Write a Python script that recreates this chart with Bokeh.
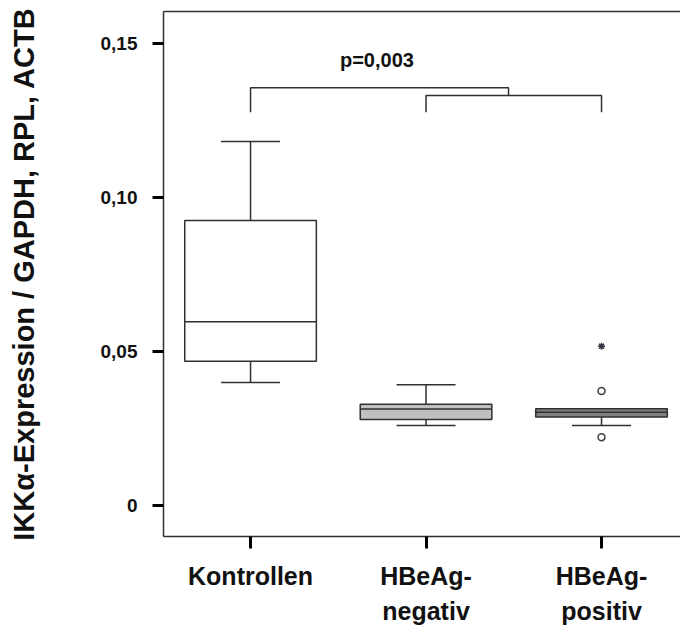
import numpy as np
from bokeh.plotting import figure
from bokeh.models import (Range1d, FixedTicker, CustomJSTickFormatter, LinearAxis,
                          Label, ColumnDataSource)
from bokeh.embed import file_html
from bokeh.resources import INLINE

# Groups and box-plot statistics (IKKα expression normalised to GAPDH, RPL, ACTB)
groups = ["Kontrollen", "HBeAg-\nnegativ", "HBeAg-\npositiv"]
positions = [1, 2, 3]
lower_whisker = [0.0399, 0.0260, 0.0260]
q1 = [0.0468, 0.0279, 0.0287]
median = [0.0597, 0.0313, 0.0303]
q3 = [0.0925, 0.0329, 0.0314]
upper_whisker = [0.1182, 0.0392, 0.0314]
box_fill = ["#ffffff", "#c0c0c0", "#808080"]

# Outliers (circles) and extreme values (asterisk)
outlier_x = [3, 3]
outlier_y = [0.0372, 0.0222]
extreme_x = [3]
extreme_y = [0.0517]

y_ticks = [0, 0.05, 0.10, 0.15]
y_title = "IKKα-Expression / GAPDH, RPL, ACTB"

# Significance bracket: Kontrollen vs. both HBeAg groups
p_text = "p=0,003"
bracket_top = 0.1356
bracket_inner = 0.1331
bracket_foot = 0.1277

FONT = "Liberation Sans"
LINE = "#303030"

p = figure(width=680, height=628, output_backend="svg", toolbar_location=None,
           x_range=Range1d(0.504, 3.45), y_range=Range1d(-0.01006, 0.16039),
           min_border_left=163, min_border_right=0, min_border_top=11,
           min_border_bottom=92, outline_line_color=None)
p.grid.visible = False
p.background_fill_color = "white"
p.border_fill_color = "white"

x = np.array(positions, dtype=float)
box_w = 0.75
cap_w = 0.336

# whiskers
p.segment(x0=x, x1=x, y0=q3, y1=upper_whisker, line_color=LINE, line_width=1.5)
p.segment(x0=x, x1=x, y0=q1, y1=lower_whisker, line_color=LINE, line_width=1.5)
p.segment(x0=x - cap_w / 2, x1=x + cap_w / 2, y0=upper_whisker, y1=upper_whisker,
          line_color=LINE, line_width=1.5)
p.segment(x0=x - cap_w / 2, x1=x + cap_w / 2, y0=lower_whisker, y1=lower_whisker,
          line_color=LINE, line_width=1.5)

# boxes and medians
src = ColumnDataSource(dict(x=x, top=q3, bottom=q1, fill=box_fill))
p.vbar(x="x", width=box_w, top="top", bottom="bottom", fill_color="fill",
       line_color=LINE, line_width=1.5, source=src)
p.segment(x0=x - box_w / 2, x1=x + box_w / 2, y0=median, y1=median,
          line_color=LINE, line_width=1.5)

# outliers
p.scatter(outlier_x, outlier_y, marker="circle", size=7, fill_color="white",
          line_color="#404040", line_width=1.5)
p.scatter(extreme_x, extreme_y, marker="asterisk", size=7, line_color="#303040",
          line_width=1.5)

# significance bracket
joint = (positions[1] + positions[2]) / 2 - 0.03
p.line([positions[0], positions[0], joint, joint],
       [bracket_foot, bracket_top, bracket_top, bracket_inner],
       line_color=LINE, line_width=1.5)
p.line([positions[1], positions[1], positions[2], positions[2]],
       [bracket_foot, bracket_inner, bracket_inner, bracket_foot],
       line_color=LINE, line_width=1.5)
p.add_layout(Label(x=1.72, y=0.1445, text=p_text, text_font=FONT,
                   text_font_style="bold", text_font_size="20px",
                   text_align="center", text_baseline="middle",
                   text_color="#111111"))

# y axis
ya = p.yaxis[0]
ya.ticker = FixedTicker(ticks=y_ticks)
ya.formatter = CustomJSTickFormatter(
    code="return tick === 0 ? '0' : tick.toFixed(2).replace('.', ',');")
ya.axis_line_color = LINE
ya.axis_line_width = 1.5
ya.major_tick_line_color = "black"
ya.major_tick_line_width = 3
ya.major_tick_out = 11
ya.major_tick_in = 0
ya.minor_tick_line_color = None
ya.major_label_standoff = 15
ya.major_label_text_font = FONT
ya.major_label_text_font_style = "bold"
ya.major_label_text_font_size = "19px"
ya.major_label_text_color = "#111111"
ya.axis_label = y_title
ya.axis_label_text_font = FONT
ya.axis_label_text_font_style = "bold"
ya.axis_label_text_font_size = "29px"
ya.axis_label_text_color = "#111111"
ya.axis_label_standoff = 58

# x axis
xa = p.xaxis[0]
xa.ticker = FixedTicker(ticks=positions)
xa.major_label_overrides = {pos: name for pos, name in zip(positions, groups)}
xa.axis_line_color = LINE
xa.axis_line_width = 1.5
xa.major_tick_line_color = "black"
xa.major_tick_line_width = 3
xa.major_tick_out = 12
xa.major_tick_in = 0
xa.minor_tick_line_color = None
xa.major_label_standoff = 13
xa.major_label_text_font = FONT
xa.major_label_text_font_style = "bold"
xa.major_label_text_font_size = "25px"
xa.major_label_text_line_height = 1.28
xa.major_label_text_color = "#111111"

# top frame line
top = LinearAxis(ticker=FixedTicker(ticks=[]), axis_line_color=LINE,
                 axis_line_width=1.5, major_tick_out=0, major_tick_in=0,
                 minor_tick_out=0, minor_tick_in=0, major_label_standoff=0,
                 major_label_text_font_size="0px")
p.add_layout(top, "above")

open("out.html", "w").write(file_html(p, INLINE))
